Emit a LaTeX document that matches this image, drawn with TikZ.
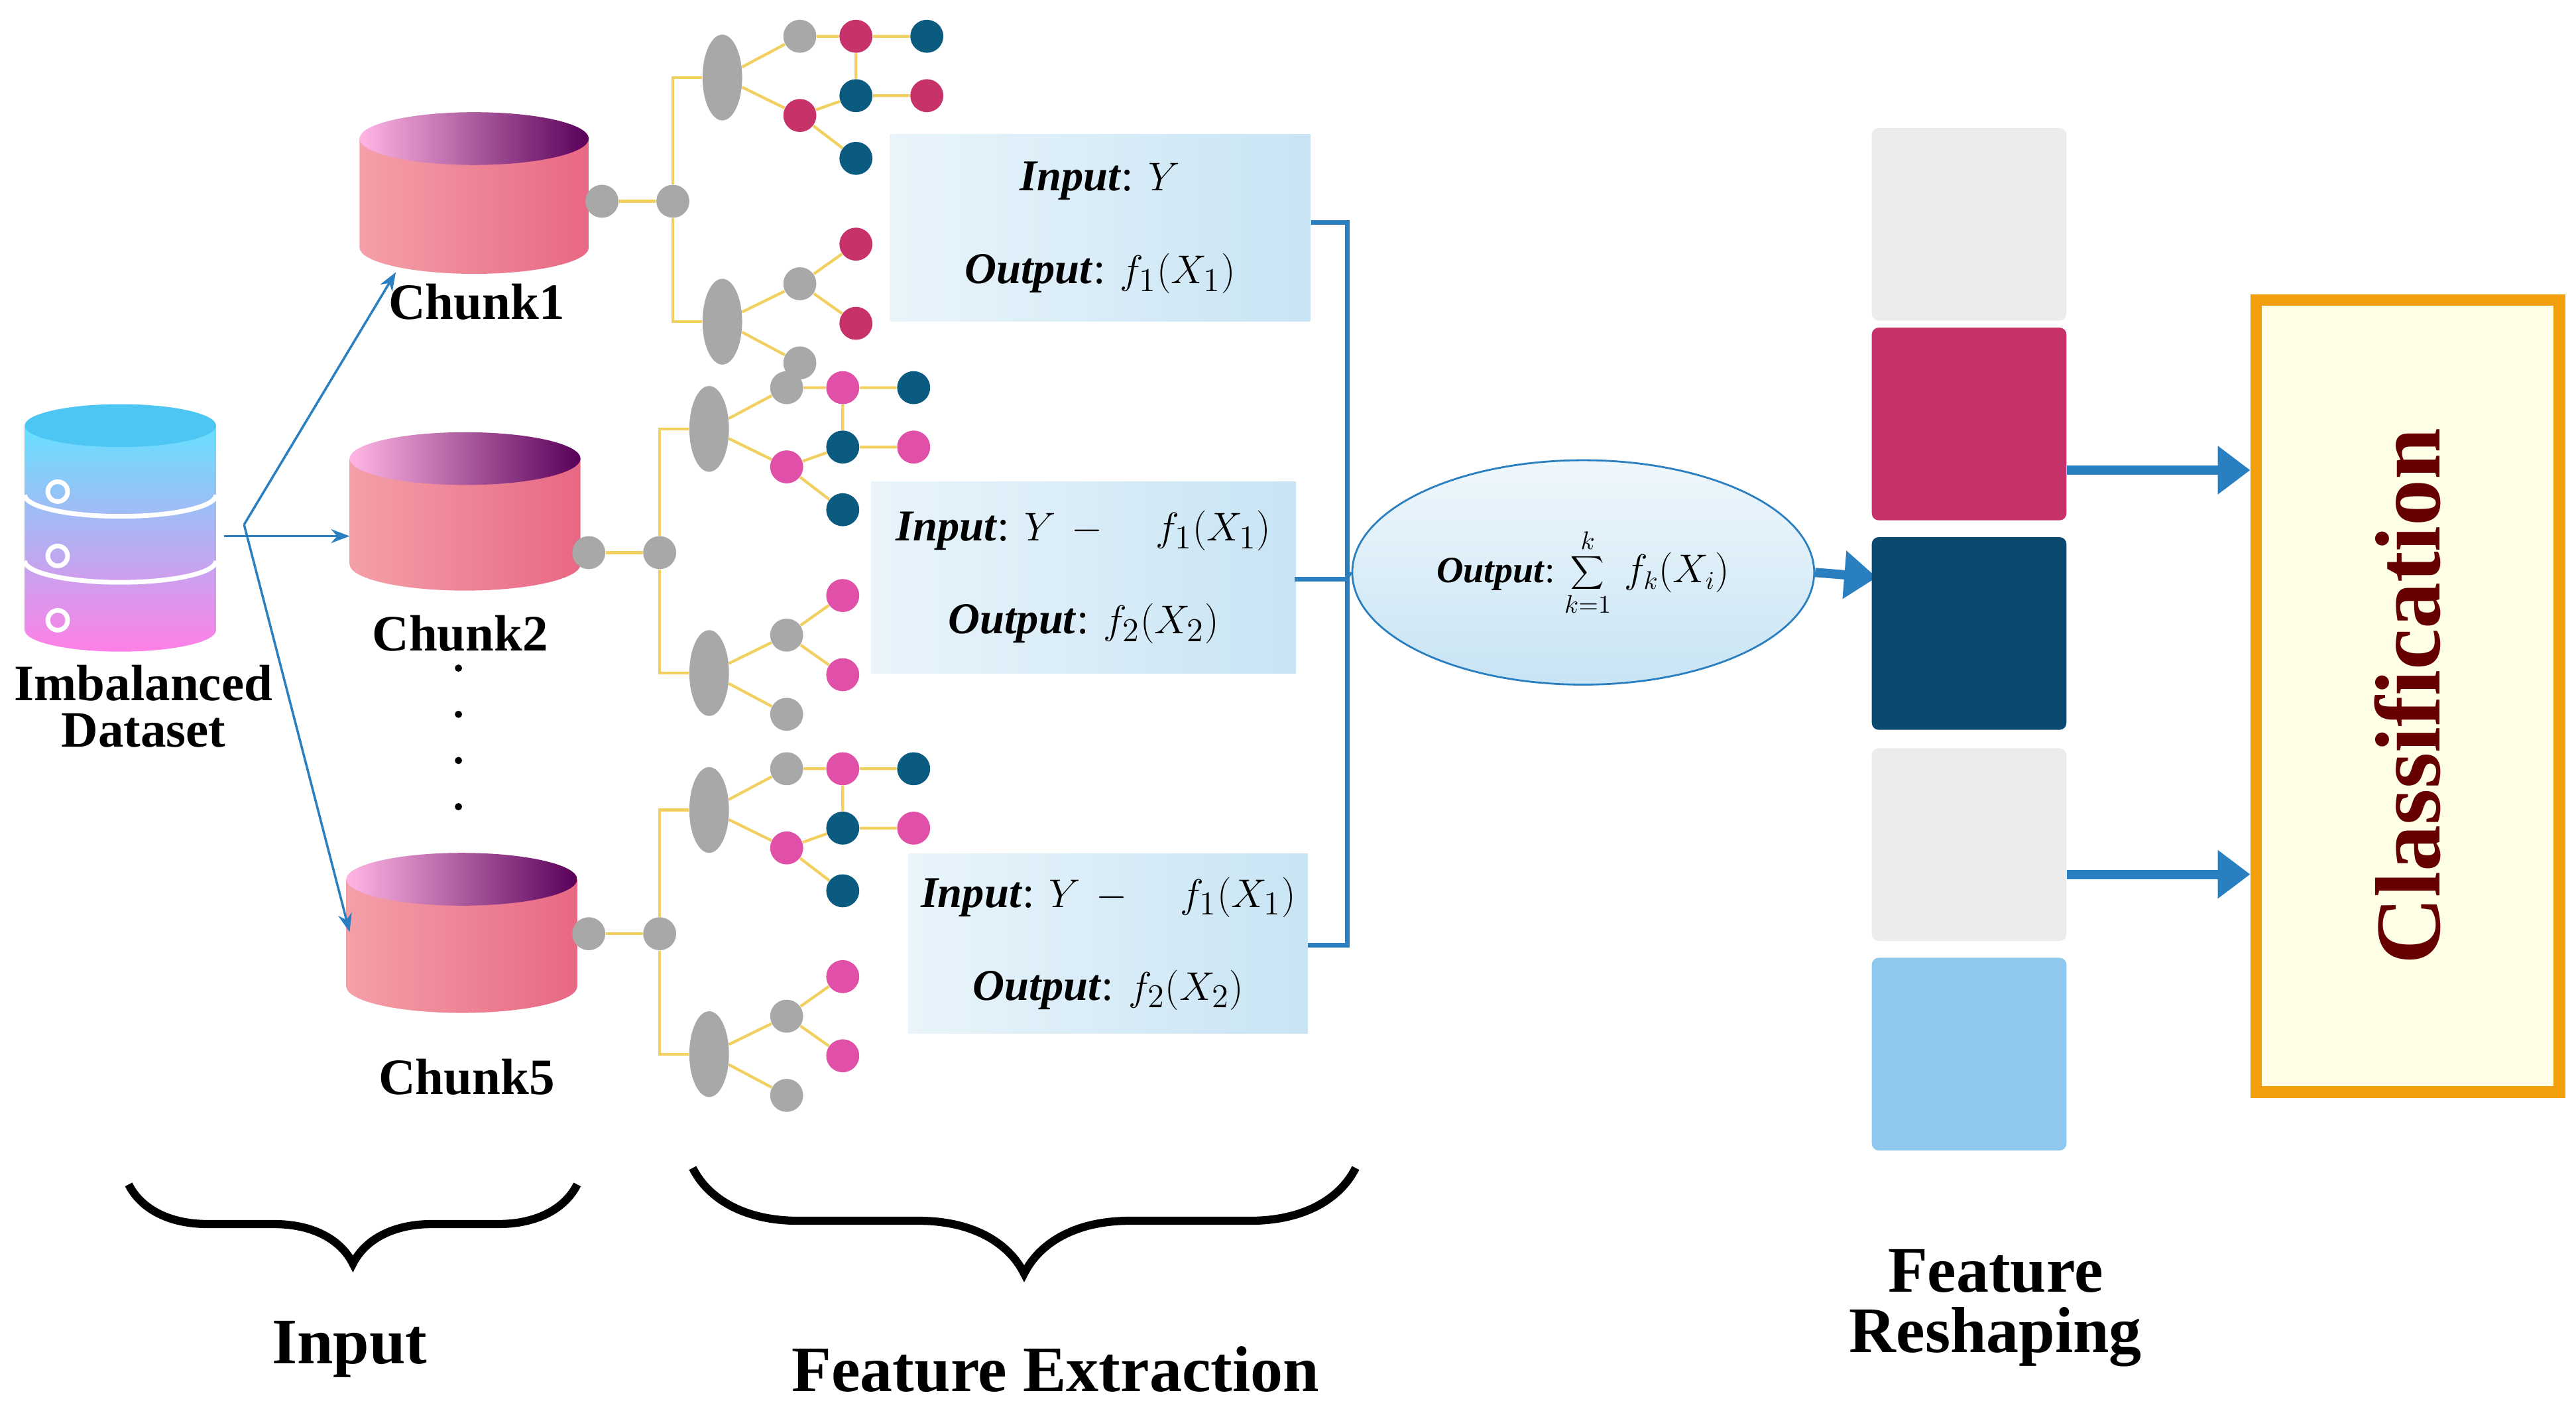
\documentclass[tikz,border=0pt]{standalone}
\usepackage{fontspec}
\setmainfont{Liberation Serif}
\usetikzlibrary{shapes.geometric,decorations.pathreplacing,arrows.meta}
\definecolor{tred}{HTML}{C8326A}
\definecolor{tpink}{HTML}{E050A8}
\definecolor{tblue}{HTML}{0B5A80}
\definecolor{tgray}{HTML}{A8A8A8}
\definecolor{tyel}{HTML}{F2D060}
\definecolor{abl}{HTML}{2A7FC0}
\definecolor{dteal}{HTML}{0B4A6E}
\definecolor{lsky}{HTML}{8EC8EC}
\definecolor{bxr}{HTML}{C8E4F4}
\definecolor{cylL}{HTML}{F4A0A8}
\definecolor{cylR}{HTML}{E86884}
\tikzset{
 dot/.style={circle,fill=#1,inner sep=0pt,minimum size=0.5cm},
 pill/.style={ellipse,fill=tgray,minimum width=0.6cm,minimum height=1.3cm,inner sep=0pt},
 br/.style={draw=tyel,line width=1.2pt},
 lab/.style={font=\bfseries\fontsize{22}{24}\selectfont,align=center},
 bx/.style={left color=bxr!40!white,right color=bxr,inner sep=0pt,font=\fontsize{19}{40}\selectfont,align=center},
 ar/.style={-{Stealth[length=8pt]},draw=abl,line width=1pt},
 bar/.style={-{Triangle[length=14pt,width=20pt]},draw=abl,line width=4pt},
 brc/.style={decorate,decoration={brace,mirror,amplitude=#1},line width=3.5pt},
}
\newcommand\cyl[4]{% x1 x2 ytop ybot
 \pgfmathsetmacro\r{(#2-#1)/2}\pgfmathsetmacro\xc{(#1+#2)/2}
 \shade[left color=cylL,right color=cylR] (#1,#3) -- (#1,#4) arc[start angle=180,end angle=0,x radius=\r,y radius=16] -- (#2,#3) -- cycle;
 \shade[left color=pink!70!magenta!60,right color=violet!70!black] (\xc,#3) ellipse[x radius=\r,y radius=16];
}
\newcommand\tree[4]{% name, x, y, pink color
 \begin{scope}[shift={(#2,#3)}]
 \node[dot=tgray] (#1r) at (-43,0) {};
 \node[dot=tgray] (#1t) at (0,0) {};
 \node[pill] (#1pa) at (30,-75) {};
 \node[pill] (#1pb) at (30,73) {};
 \node[dot=tgray] (#1a1) at (77,-100) {};
 \node[dot=#4] (#1a2) at (111,-100) {};
 \node[dot=tblue] (#1a3) at (154,-100) {};
 \node[dot=tblue] (#1a4) at (111,-64) {};
 \node[dot=#4] (#1a5) at (154,-64) {};
 \node[dot=#4] (#1a6) at (77,-52) {};
 \node[dot=tblue] (#1a7) at (111,-26) {};
 \node[dot=tgray] (#1b1) at (77,50) {};
 \node[dot=#4] (#1b2) at (111,26) {};
 \node[dot=#4] (#1b3) at (111,74) {};
 \node[dot=tgray] (#1b4) at (77,98) {};
 \end{scope}
 \begin{pgfonlayer}{bg}
 \draw[br] (#1r) -- (#1t) (#1pa) -| (#1t) |- (#1pb);
 \draw[br] (#1pa) -- (#1a1) -- (#1a2) -- (#1a3) (#1a2) -- (#1a4) -- (#1a5) (#1pa) -- (#1a6) -- (#1a7) (#1a6) -- (#1a4);
 \draw[br] (#1pb) -- (#1b1) -- (#1b2) (#1b1) -- (#1b3) (#1pb) -- (#1b4);
 \end{pgfonlayer}
}
\pgfdeclarelayer{bg}\pgfsetlayers{bg,main}
\begin{document}
\begin{tikzpicture}[x=0.025cm,y=-0.025cm]
\begin{pgfonlayer}{bg}
\useasboundingbox[fill=white] (0,0) rectangle (1562,860);
\end{pgfonlayer}
% dataset
\shade[top color=cyan!80!blue!60,bottom color=magenta!50!pink!80] (15,258) -- (15,382) arc[start angle=180,end angle=0,x radius=58,y radius=13] -- (131,258) -- cycle;
\fill[cyan!70!white] (73,258) ellipse[x radius=58,y radius=13];
\foreach \yy in {300,340}{\draw[white,line width=2pt] (15,\yy) arc[start angle=180,end angle=0,x radius=58,y radius=13];}
\foreach \yy in {298,337,376}{\draw[white,line width=2pt] (35,\yy) circle[radius=6];}
\node[coordinate] (ds) at (148,318) {};
\node[lab] (dsl) at (87,428) {Imbalanced\\[-4pt]Dataset};
% chunks
\cyl{218}{357}{84}{150}
\cyl{212}{352}{278}{342}
\cyl{210}{350}{533}{598}
\node[coordinate] (c1) at (240,165) {};
\node[coordinate] (c2) at (212,325) {};
\node[coordinate] (c5) at (212,565) {};
\node[lab] (l1) at (289,183) {Chunk1};
\node[lab] (l2) at (279,384) {Chunk2};
\node[lab] (l5) at (283,653) {Chunk5};
\foreach \yy [count=\i] in {405,433,461,489}{\fill (278,\yy) circle[radius=2.2];}
\draw[ar] (ds) -- (c1);
\draw[ar] (136,325) -- (c2);
\draw[ar] (ds) -- (c5);
% trees
\tree{A}{408}{122}{tred}
\tree{B}{400}{335}{tpink}
\tree{C}{400}{566}{tpink}
% boxes
\node[bx,minimum width=6.37cm,minimum height=2.83cm] (b1) at (667,138) {\textbf{\textit{Input}}: $Y$\\\textbf{\textit{Output}}: $f_1(X_1)$};
\node[bx,minimum width=6.43cm,minimum height=2.9cm] (b2) at (657,350) {\textbf{\textit{Input}}: $Y\,-\quad f_1(X_1)$\\\textbf{\textit{Output}}: $f_2(X_2)$};
\node[bx,minimum width=6.05cm,minimum height=2.73cm] (b3) at (672,572) {\textbf{\textit{Input}}: $Y\,-\quad f_1(X_1)$\\\textbf{\textit{Output}}: $f_2(X_2)$};
\node[coordinate] (j) at (817,351) {};
\draw[abl,line width=2pt] (795,135) -| (817,573) -- (793,573) (785,351) -- (j);
\node[ellipse,draw=abl,line width=0.8pt,top color=bxr!30!white,bottom color=bxr,minimum width=7cm,minimum height=3.4cm,inner sep=2pt,font=\fontsize{16}{18}\selectfont] (el) at (960,347) {\textbf{\textit{Output}}:\ $\displaystyle\sum_{k=1}^{k}\, f_k(X_i)$};
\draw[abl,line width=1pt] (j) -- (el.west);
% feature squares
\node[coordinate] (fi) at (1138,350) {};
\draw[bar] (el.east) -- (fi);
\tikzset{sq/.style={rounded corners=3pt,minimum width=2.95cm,minimum height=2.92cm,inner sep=0pt}}
\node[sq,fill=gray!15] (s1) at (1194,136) {};
\node[sq,fill=tred] (s2) at (1194,257) {};
\node[sq,fill=dteal] (s3) at (1194,384) {};
\node[sq,fill=gray!15] (s4) at (1194,512) {};
\node[sq,fill=lsky] (s5) at (1194,639) {};
% classification
\node[draw=orange!70!yellow!80!brown,line width=5pt,fill=yellow!10!white,minimum width=4.6cm,minimum height=12cm,inner sep=0pt] (cl) at (1460,422) {};
\node[rotate=90,font=\bfseries\fontsize{40}{44}\selectfont,text=red!40!black] (clt) at (1460,422) {Classification};
\draw[bar] (s2.east |- 0,285) -- (cl.west |- 0,285);
\draw[bar] (s4.east |- 0,530) -- (cl.west |- 0,530);
% braces
\draw[brc=1.2cm] (78,718) -- (350,718);
\draw[brc=1.6cm] (420,708) -- (822,708);
\node[lab,font=\bfseries\fontsize{28}{30}\selectfont] (in) at (212,818) {Input};
\node[lab,font=\bfseries\fontsize{28}{30}\selectfont] (fe) at (640,830) {Feature Extraction};
\node[lab,font=\bfseries\fontsize{28}{30}\selectfont] (fr) at (1210,793) {Feature\\[-4pt]Reshaping};
\end{tikzpicture}
\end{document}
